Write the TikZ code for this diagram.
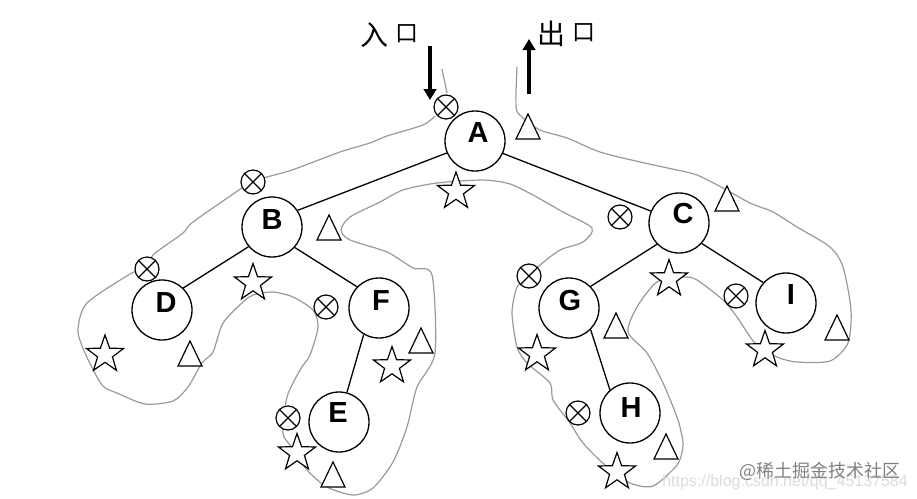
\documentclass[tikz,border=0pt]{standalone}
\usepackage{fontspec}
\setmainfont{Liberation Sans}
\newfontfamily\cjk{Noto Sans CJK SC}
\usetikzlibrary{shapes.geometric,arrows.meta}
\definecolor{contour}{gray}{0.6}
\tikzset{
  x=1pt,y=-1pt,
  treenode/.style={circle,draw=black,fill=white,line width=1.3pt,minimum size=60pt,inner sep=0pt},
  letter/.style={font=\fontsize{29}{29}\selectfont\bfseries,inner sep=0pt},
  edge/.style={line width=1.3pt,black},
  contourline/.style={draw=contour,line width=1.2pt,line join=round},
  xmark/.style={circle,draw=black,fill=white,line width=1.2pt,minimum size=24pt,inner sep=0pt,
    path picture={\draw[line width=1.2pt] (path picture bounding box.north west)--(path picture bounding box.south east)
      (path picture bounding box.north east)--(path picture bounding box.south west);}},
  starmark/.style={star,star points=5,star point ratio=2.5,draw=black,fill=white,line width=1.2pt,minimum size=39pt,inner sep=0pt},
  trimark/.pic={\draw[black,fill=white,line width=1.2pt,line join=miter] (-12,0)--(0,-25)--(12,0)--cycle;},
  flow/.style={line width=3.6pt,black,-{Triangle[length=11pt,width=12.5pt]}},
  hand/.style={font=\cjk\fontsize{28}{28}\selectfont,inner sep=0pt},
  handsmall/.style={font=\cjk\fontsize{23}{23}\selectfont,inner sep=0pt},
}
\begin{document}
\begin{tikzpicture}
\useasboundingbox (0,0) rectangle (917,498);
% contour
\draw[contourline] plot[smooth,tension=0.45] coordinates {
(442,69)(447,93)};
\draw[contourline] plot[smooth,tension=0.45] coordinates {
(435,116)(423,125)(387,136)(370,143)(340,152)(292,170)(267,177)(253,182)(242,188)(193,222)(183,233)(153,255)(147,269)(132,273)(87,303)(78,330)(85,353)(102,385)(117,393)(145,404)(173,401)(188,387)(202,363)(213,352)(223,323)(243,302)(253,295)(273,292)(293,297)(313,310)(318,327)(310,355)(300,370)(287,397)(283,433)(290,445)(307,470)(327,487)(353,495)(373,488)(393,462)(407,427)(417,387)(435,353)(432,275)(413,268)(387,252)(350,240)(341,230)(350,217)(380,202)(403,190)(437,183)(483,180)(510,184)(533,195)(563,212)(592,228)(583,242)(560,250)(540,265)(529,276)(517,287)(512,313)(517,347)(527,363)(550,383)(553,400)(570,423)(583,443)(605,465)(630,483)(653,486)(677,465)(683,445)(678,420)(663,383)(647,353)(628,332)(637,307)(657,282)(683,277)(697,280)(723,300)(737,317)(755,343)(777,357)(797,362)(830,361)(848,343)(851,310)(843,267)(830,247)(797,227)(773,212)(750,203)(723,188)(697,175)(677,170)(640,162)(600,152)(567,138)(540,130)(522,117)(516,107)(517,67)};
% tree nodes
\node[treenode] (A) at (475,141) {};
\node[treenode] (B) at (272,227) {};
\node[treenode] (C) at (679,223) {};
\node[treenode] (D) at (162,310) {};
\node[treenode] (F) at (379,308) {};
\node[treenode] (E) at (339,422) {};
\node[treenode] (G) at (569,308) {};
\node[treenode] (I) at (786,303) {};
\node[treenode] (H) at (630,413) {};
\draw[edge] (A.203)--(B.33);
\draw[edge] (A.336)--(C.157);
\draw[edge] (B.220)--(D.46);
\draw[edge] (B.318)--(F.136);
\draw[edge] (F.240)--(E.75);
\draw[edge] (C.224)--(G.45);
\draw[edge] (C.318)--(I.138);
\draw[edge] (G.315)--(H.131);
\node[letter] (lA) at (478,133) {A};
\node[letter] (lB) at (272,220) {B};
\node[letter] (lC) at (683,214) {C};
\node[letter] (lD) at (166,303) {D};
\node[letter] (lF) at (381,301) {F};
\node[letter] (lE) at (338,413) {E};
\node[letter] (lG) at (570,301) {G};
\node[letter] (lI) at (791,295) {I};
\node[letter] (lH) at (631,408) {H};
% crossed circles
\foreach \p/\q [count=\i] in {446/107,253/182,147/269,326/307,288/418,620/217,529/276,736/296,578/413}
  \node[xmark] (x\i) at (\p,\q) {};
% stars
\foreach \p/\q [count=\i] in {456/191.5,253/283,105/354.5,392/366,297/453,669/279,537/354,765/350,617/472}
  \node[starmark] (s\i) at (\p,\q) {};
% triangles
\foreach \p/\q in {528/139,329/240,190/366,421/353,333/487,727/211,616/338,837/340,666/459}
  \pic at (\p,\q) {trimark};
% arrows
\coordinate (inA) at (430,46);
\coordinate (inB) at (430,100);
\coordinate (outA) at (529,94);
\coordinate (outB) at (529,39);
\draw[flow] (inA)--(inB);
\draw[flow] (outA)--(outB);
\node[hand] (in1) at (374,35) {入};
\node[handsmall] (in2) at (407,34) {口};
\node[hand] (out1) at (551,34) {出};
\node[handsmall] (out2) at (584,33) {口};
% watermarks
\node[inner sep=0pt,text=black!14,font=\fontsize{16}{16}\selectfont,anchor=east] (wm2) at (908,482) {https://blog.csdn.net/qq\_45137584};
\node[inner sep=0pt,text=black!50,font=\cjk\fontsize{18}{18}\selectfont,anchor=east] (wm1) at (901,471) {@稀土掘金技术社区};
\end{tikzpicture}
\end{document}
